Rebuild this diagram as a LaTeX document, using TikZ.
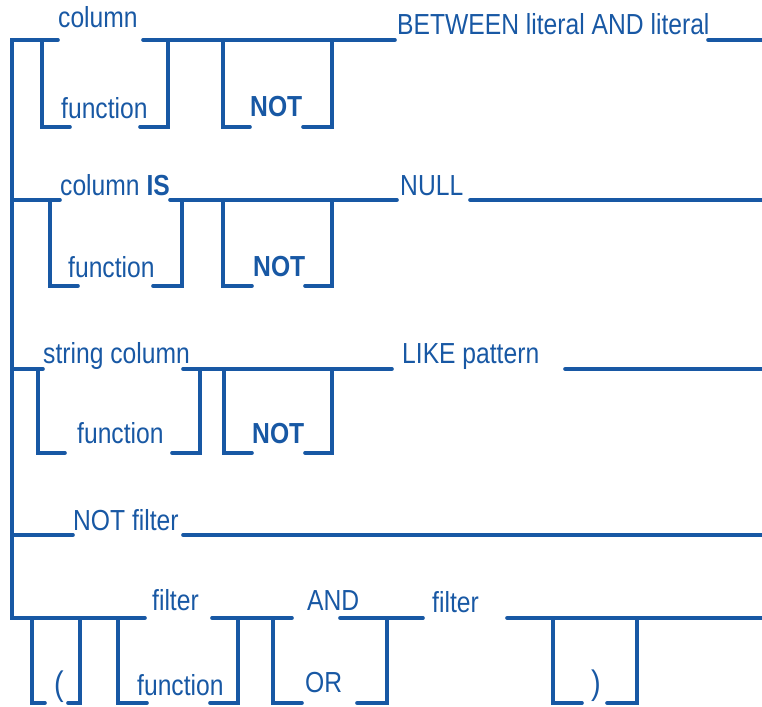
\documentclass[tikz,border=0pt]{standalone}
\usepackage{fontspec}
\setmainfont[FakeStretch=0.85]{Liberation Sans}

\definecolor{railblue}{RGB}{24,88,164}
\tikzset{
    rail/.style={draw=railblue,line width=3.6pt,line cap=round,line join=miter},
    word/.style={anchor=base west,inner sep=0pt,text=railblue,
        font=\fontsize{29}{29}\selectfont},
    kw/.style={word,font=\fontsize{29}{29}\selectfont\bfseries},
    paren/.style={word,font=\fontsize{34}{34}\selectfont}
}

\begin{document}
\begin{tikzpicture}[x=1pt,y=-1pt]
        \useasboundingbox (0,0) rectangle (762,706);

        % main track on the left
        \draw[rail] (58,40) -- (12,40) -- (12,618) -- (145,618);

        % straight runs
        \foreach \xa/\xb/\y in {143/395/40, 708/762/40,
            12/60/200, 170/397/200, 470/762/200,
            12/43/369, 183/392/369, 565/762/369,
            12/73/535, 183/762/535,
            212/292/618, 340/423/618, 507/762/618}{
            \draw[rail] (\xa,\y) -- (\xb,\y);
        }

        % optional branches hanging below a run
        \foreach \xa/\xb/\xc/\xd/\ya/\yb in {42/70/140/168/40/127, 223/250/303/332/40/127,
            50/78/153/182/200/286, 223/252/305/332/200/286,
            38/65/172/200/369/453, 224/252/305/332/369/453,
            32/45/68/80/618/703, 118/147/210/238/618/703,
            273/302/357/387/618/703, 553/582/607/637/618/703}{
            \draw[rail] (\xb,\yb) -- (\xa,\yb) -- (\xa,\ya)
                (\xc,\yb) -- (\xd,\yb) -- (\xd,\ya);
        }

        % BETWEEN
        \node[word] (col1) at (58,28) {column};
        \node[word] (fn1) at (61,118) {function};
        \node[kw] (not1) at (250,117) {NOT};
        \node[word] (btw) at (397,35) {BETWEEN literal AND literal};

        % IS NULL
        \node[word] (col2) at (60,195) {column \textbf{IS}};
        \node[word] (fn2) at (68,277) {function};
        \node[kw] (not2) at (253,276) {NOT};
        \node[word] (null) at (400,195) {NULL};

        % LIKE
        \node[word] (strcol) at (43,363) {string column};
        \node[word] (fn3) at (77,443) {function};
        \node[kw] (not3) at (252,443) {NOT};
        \node[word] (like) at (402,363) {LIKE pattern};

        \node[word] (notf) at (73,530) {NOT filter};

        % AND / OR
        \node[word] (filt1) at (152,610) {filter};
        \node[word] (and) at (307,610) {AND};
        \node[word] (filt2) at (432,612) {filter};
        \node[paren] (lpar) at (54,695) {(};
        \node[word] (fn5) at (137,695) {function};
        \node[word] (or) at (305,692) {OR};
        \node[paren] (rpar) at (591,694) {)};
    \end{tikzpicture}
\end{document}
